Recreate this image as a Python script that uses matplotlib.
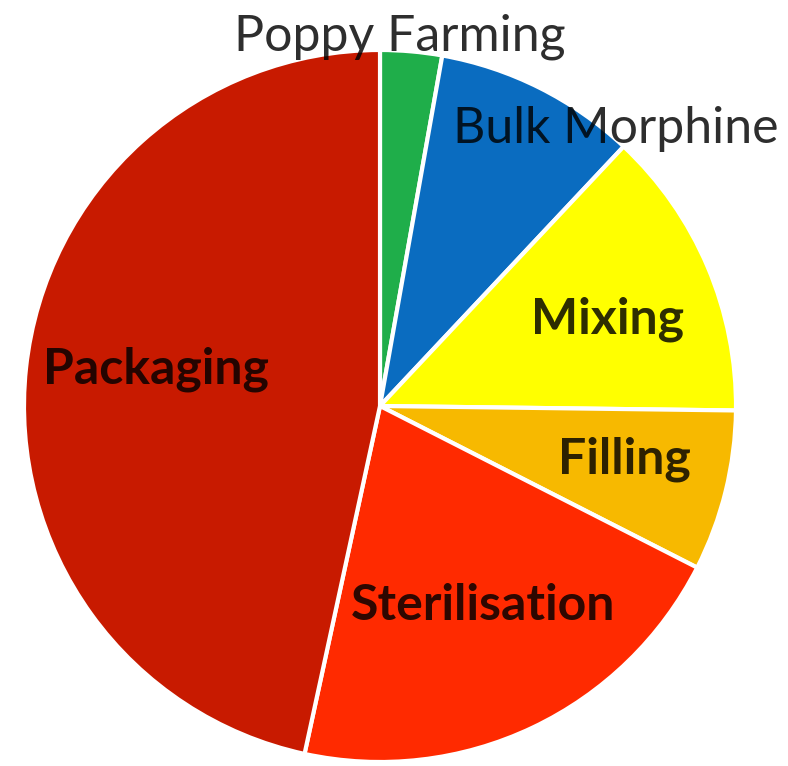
import matplotlib
matplotlib.use("Agg")
import matplotlib.pyplot as plt

# Cost share of each production stage (percent)
stages = ["Poppy Farming", "Bulk Morphine", "Mixing", "Filling", "Sterilisation", "Packaging"]
shares = [2.8, 9.2, 13.2, 7.3, 20.9, 46.6]
colors = ["#1fae4a", "#0a6cc0", "#ffff00", "#f7b900", "#ff2a00", "#c81a00"]

# Label anchor points (pixel space, baseline centre) and weights
label_xy = [(400, 716), (616, 623), (608, 433), (624, 293), (483, 146), (156, 383)]
label_weight = ["normal", "normal", "bold", "bold", "bold", "bold"]

W, H = 788, 766
fig = plt.figure(figsize=(W / 100, H / 100), dpi=100)
ax = fig.add_axes([0, 0, 1, 1])

ax.pie(shares, colors=colors, startangle=90, counterclock=False,
       center=(380, 360), radius=356,
       wedgeprops=dict(edgecolor="white", linewidth=3, antialiased=True))

# pie() resets the limits, so fix the pixel-space view afterwards
ax.set_xlim(0, W)
ax.set_ylim(0, H)
ax.set_aspect("equal")
ax.axis("off")

for name, (x, y), wt in zip(stages, label_xy, label_weight):
    ax.text(x, y, name, ha="center", va="baseline", fontsize=36,
            family=["Lato", "DejaVu Sans"], fontweight=wt,
            color="black", alpha=0.82, zorder=5)

fig.savefig("out.png", dpi=100)
